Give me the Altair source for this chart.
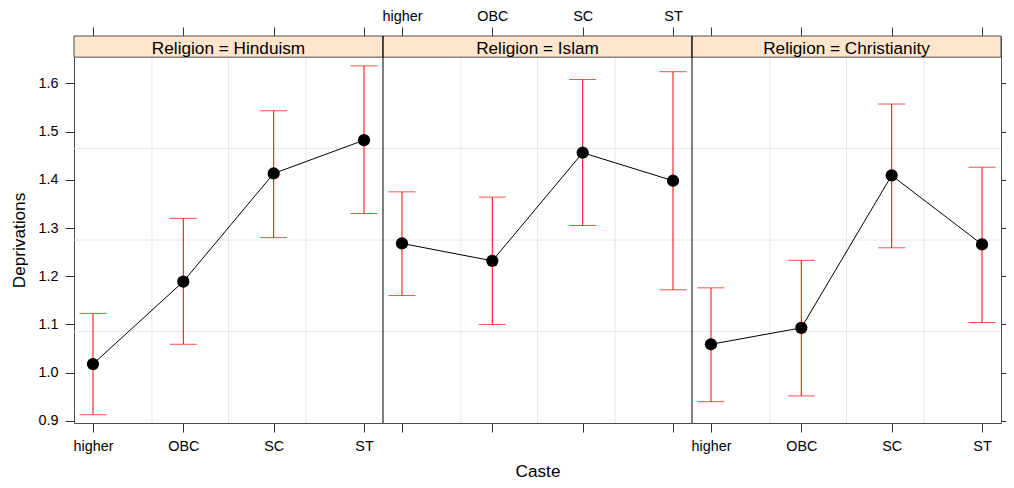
import json
import altair as alt
import pandas as pd

# ---- data ----
castes = ["higher", "OBC", "SC", "ST"]
religions = ["Hinduism", "Islam", "Christianity"]

fit_hinduism = [1.018, 1.189, 1.413, 1.482]
lower_hinduism = [0.913, 1.059, 1.280, 1.330]
upper_hinduism = [1.123, 1.320, 1.543, 1.636]

fit_islam = [1.268, 1.232, 1.456, 1.398]
lower_islam = [1.160, 1.100, 1.305, 1.172]
upper_islam = [1.375, 1.364, 1.608, 1.624]

fit_christianity = [1.059, 1.093, 1.409, 1.266]
lower_christianity = [0.940, 0.952, 1.259, 1.104]
upper_christianity = [1.176, 1.233, 1.557, 1.426]

y_ticks = [0.9, 1.0, 1.1, 1.2, 1.3, 1.4, 1.5, 1.6]
h_grid = [1.085, 1.275, 1.465]          # reference lines (data units)
v_grid = [1.653, 2.501, 3.358]          # reference lines within a panel (category units)

# ---- layout constants ----
P = 3.42        # width of one panel in category units
PAD = 0.21      # padding on each side of a panel
YMIN, YMAX = 0.8958, 1.6980
STRIP_BOTTOM = 1.6541
STRIP_TEXT_Y = 1.6612

fits = [fit_hinduism, fit_islam, fit_christianity]
lows = [lower_hinduism, lower_islam, lower_christianity]
ups = [upper_hinduism, upper_islam, upper_christianity]

rows = []
for p, rel in enumerate(religions):
    for i, c in enumerate(castes):
        rows.append(dict(religion=rel, caste=c, x=p * P + i + 1,
                         fit=fits[p][i], lower=lows[p][i], upper=ups[p][i]))
df = pd.DataFrame(rows)

strip_df = pd.DataFrame([
    dict(religion=rel, x0=p * P + 1 - PAD, x1=p * P + 4 + PAD,
         xc=p * P + 2.5, y0=STRIP_BOTTOM, y1=YMAX, ty=STRIP_TEXT_Y,
         label=f"Religion = {rel}")
    for p, rel in enumerate(religions)
])
vgrid_df = pd.DataFrame([dict(x=p * P + g, y0=YMIN, y1=STRIP_BOTTOM)
                         for p in range(len(religions)) for g in v_grid])
hgrid_df = pd.DataFrame(dict(y=h_grid))
sep_df = pd.DataFrame([dict(x=p * P + 4 + PAD, y0=YMIN, y1=YMAX)
                       for p in range(len(religions) - 1)])

XMIN = 1 - PAD
XMAX = (len(religions) - 1) * P + 4 + PAD
xs = alt.Scale(domain=[XMIN, XMAX], nice=False, zero=False)
ys = alt.Scale(domain=[YMIN, YMAX], nice=False, zero=False)

FONT = "Liberation Sans"
cats_js = json.dumps(castes)
panel_e = f"floor((datum.value - {XMIN - 0.01}) / {P})"
idx_e = f"round(datum.value - {panel_e} * {P}) - 1"
tick_vals = [float(v) for v in df["x"]]

common_axis = dict(labelFont=FONT, titleFont=FONT, labelFontSize=14.4,
                   titleFontSize=17.2, labelColor="black", titleColor="black",
                   titleFontWeight="normal", tickColor="#333333", tickSize=9,
                   domain=False, grid=False, labelFlush=False, labelOverlap=False)

bottom_axis = alt.Axis(orient="bottom", values=tick_vals,
                       labelExpr=f"{panel_e} == 1 ? '' : {cats_js}[{idx_e}]",
                       labelBaseline="alphabetic", labelPadding=18.7,
                       title="Caste", titleX=463.5, titleY=53,
                       titleBaseline="alphabetic", **common_axis)
top_axis = alt.Axis(orient="top", values=tick_vals,
                    labelExpr=f"{panel_e} == 1 ? {cats_js}[{idx_e}] : ''",
                    labelBaseline="alphabetic", labelPadding=6.7,
                    title="", **common_axis)
left_axis = alt.Axis(orient="left", values=y_ticks, format=".1f",
                     labelPadding=7, title="Deprivations", titleX=-50,
                     titleY=204, titleBaseline="alphabetic", **common_axis)
right_axis = alt.Axis(orient="right", values=y_ticks, labels=False,
                      title="", **common_axis)

hgrid = alt.Chart(hgrid_df).mark_rule(color="#E6E6E6", strokeWidth=1).encode(
    y=alt.Y("y:Q", scale=ys, axis=None))

vgrid = alt.Chart(vgrid_df).mark_rule(color="#E6E6E6", strokeWidth=1).encode(
    x=alt.X("x:Q", scale=xs, axis=None),
    y=alt.Y("y0:Q", scale=ys, axis=None), y2="y1:Q")

strip = alt.Chart(strip_df).mark_rect(fill="#FFE5CC", stroke="#4D4D4D",
                                      strokeWidth=1).encode(
    x=alt.X("x0:Q", scale=xs, axis=None), x2="x1:Q",
    y=alt.Y("y0:Q", scale=ys, axis=None), y2="y1:Q")

strip_text = alt.Chart(strip_df).mark_text(font=FONT, fontSize=17.2,
                                           color="black",
                                           baseline="alphabetic").encode(
    x=alt.X("xc:Q", scale=xs, axis=None),
    y=alt.Y("ty:Q", scale=ys, axis=None),
    text="label:N")

seps = alt.Chart(sep_df).mark_rule(color="black", strokeWidth=1).encode(
    x=alt.X("x:Q", scale=xs, axis=None),
    y=alt.Y("y0:Q", scale=ys, axis=None), y2="y1:Q")

bars = alt.Chart(df).mark_rule(color="#FF0000", strokeWidth=1).encode(
    x=alt.X("x:Q", scale=xs, axis=None),
    y=alt.Y("lower:Q", scale=ys, axis=None), y2="upper:Q")

cap_lo = alt.Chart(df).mark_tick(color="#FF0000", orient="horizontal",
                                 size=27, thickness=1).encode(
    x=alt.X("x:Q", scale=xs, axis=None),
    y=alt.Y("lower:Q", scale=ys, axis=None))
cap_hi = alt.Chart(df).mark_tick(color="#FF0000", orient="horizontal",
                                 size=27, thickness=1).encode(
    x=alt.X("x:Q", scale=xs, axis=None),
    y=alt.Y("upper:Q", scale=ys, axis=None))

line = alt.Chart(df).mark_line(color="black", strokeWidth=1).encode(
    x=alt.X("x:Q", scale=xs, axis=bottom_axis),
    y=alt.Y("fit:Q", scale=ys, axis=left_axis),
    detail="religion:N")

points = alt.Chart(df).mark_circle(color="black", opacity=1, size=150).encode(
    x=alt.X("x:Q", scale=xs, axis=top_axis),
    y=alt.Y("fit:Q", scale=ys, axis=right_axis))

chart = alt.layer(
    hgrid, vgrid, strip, strip_text, seps, bars, cap_lo, cap_hi, line, points
).resolve_axis(x="independent", y="independent").properties(
    width=927, height=387,
    autosize=alt.AutoSizeParams(type="none"),
    padding={"left": 66, "top": 28, "right": 5, "bottom": 57},
    background="white",
).configure_view(stroke="#4D4D4D", strokeWidth=1)

chart.save("out.html", embed_options={"renderer": "svg", "actions": False})
